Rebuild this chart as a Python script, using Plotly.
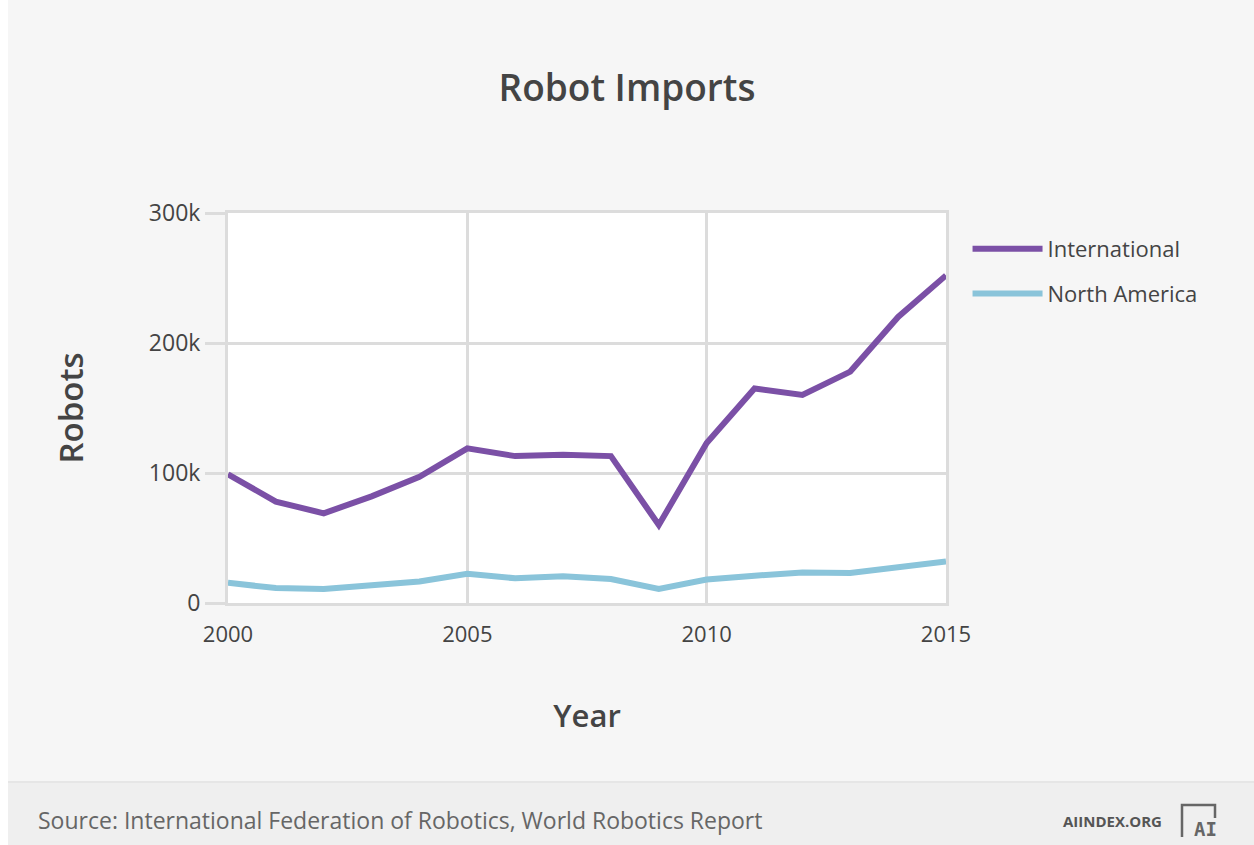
import plotly.graph_objects as go

# Annual robot imports, 2000-2015
years = list(range(2000, 2016))
international = [99000, 78000, 69000, 82000, 97000, 119000, 113000, 114000,
                 113000, 60000, 123000, 165000, 160000, 178000, 220000, 252000]
north_america = [15500, 11500, 10800, 14000, 16600, 22500, 19000, 20500,
                 18500, 10800, 18000, 21000, 23500, 23000, 27700, 32000]

y_tickvals = [0, 100000, 200000, 300000]
y_ticktext = ["0", "100k", "200k", "300k"]
x_tickvals = [2000, 2005, 2010, 2015]

PURPLE = "#7b50a6"
BLUE = "#8ac4da"
GRID = "#dcdcdc"
TEXT = "#444444"
FONT = "Open Sans"

# plot area in pixels
L, R, T, B = 228, 946, 213, 603
W, H = 1254, 845
PW, PH = R - L, B - T


def px_x(x):
    return (x - L) / PW


def px_y(y):
    return (B - y) / PH


fig = go.Figure()
fig.add_trace(go.Scatter(
    x=years, y=international, mode="lines", name="International",
    legendgroup="intl",
    line=dict(color=PURPLE, width=6),
))
fig.add_trace(go.Scatter(
    x=years, y=north_america, mode="lines", name="North America",
    legendgroup="na",
    line=dict(color=BLUE, width=6),
))

fig.update_layout(
    width=W, height=H,
    paper_bgcolor="#f6f6f6",
    plot_bgcolor="#ffffff",
    margin=dict(l=L, r=W - R, t=T, b=H - B),
    font=dict(family=FONT, color=TEXT, size=20),
    title=dict(
        text="Robot Imports", x=0.5, xanchor="center",
        y=1 - 88 / H, yanchor="middle",
        font=dict(family=FONT, size=37, color=TEXT, weight=600),
    ),
    showlegend=True,
    legend=dict(
        x=1.03, xanchor="left", y=1 - 15 / PH, yanchor="top",
        bgcolor="rgba(0,0,0,0)",
        font=dict(family=FONT, size=22, color=TEXT),
        itemwidth=70,
        traceorder="grouped",
        tracegroupgap=13,
    ),
    xaxis=dict(
        range=[2000, 2015],
        tickvals=x_tickvals,
        ticks="",
        ticklabelstandoff=10,
        showgrid=True, gridcolor=GRID, gridwidth=3,
        showline=True, linecolor=GRID, linewidth=3, mirror=True,
        zeroline=False,
        tickfont=dict(family=FONT, size=22, color=TEXT),
        title=dict(text="Year", standoff=58,
                   font=dict(family=FONT, size=31, color=TEXT, weight=600)),
    ),
    yaxis=dict(
        range=[0, 300000],
        tickvals=y_tickvals, ticktext=y_ticktext,
        ticks="outside", ticklen=20, tickcolor=GRID, tickwidth=3,
        showgrid=True, gridcolor=GRID, gridwidth=3,
        showline=True, linecolor=GRID, linewidth=3, mirror=True,
        zeroline=False,
        tickfont=dict(family=FONT, size=23, color=TEXT),
        title=dict(text="Robots", standoff=56,
                   font=dict(family=FONT, size=33, color=TEXT, weight=600)),
    ),
)

# Footer band with source note and site credit
fig.add_shape(type="rect", xref="paper", yref="paper",
              x0=px_x(0), x1=px_x(W), y0=px_y(H), y1=px_y(782),
              fillcolor="#efefef", line=dict(width=0), layer="below")
fig.add_shape(type="line", xref="paper", yref="paper",
              x0=px_x(0), x1=px_x(W), y0=px_y(782), y1=px_y(782),
              line=dict(color="#e6e6e6", width=2), layer="below")
fig.add_shape(type="rect", xref="paper", yref="paper",
              x0=px_x(0), x1=px_x(8), y0=px_y(H), y1=px_y(0),
              fillcolor="#ffffff", line=dict(width=0), layer="below")
fig.add_annotation(
    xref="paper", yref="paper",
    x=px_x(36), y=px_y(820),
    xanchor="left", yanchor="middle", showarrow=False,
    text="Source: International Federation of Robotics, World Robotics Report",
    font=dict(family=FONT, size=23, color="#666666"),
)
fig.add_annotation(
    xref="paper", yref="paper",
    x=px_x(1164), y=px_y(821),
    xanchor="right", yanchor="middle", showarrow=False,
    text="AIINDEX.ORG",
    font=dict(family=FONT, size=15, color="#555555", weight=700),
)
# small "AI" mark
fig.add_shape(type="path", xref="paper", yref="paper",
              path="M {x0} {yb} L {x0} {yt} L {x1} {yt} L {x1} {ym}".format(
                  x0=px_x(1182), x1=px_x(1215),
                  yt=px_y(805), yb=px_y(837), ym=px_y(818)),
              line=dict(color="#666666", width=2.5))
fig.add_annotation(
    xref="paper", yref="paper",
    x=px_x(1205), y=px_y(829),
    xanchor="center", yanchor="middle", showarrow=False,
    text="<b>AI</b>",
    font=dict(family="DejaVu Sans Mono", size=19, color="#666666"),
)

fig.write_html("out.html")
